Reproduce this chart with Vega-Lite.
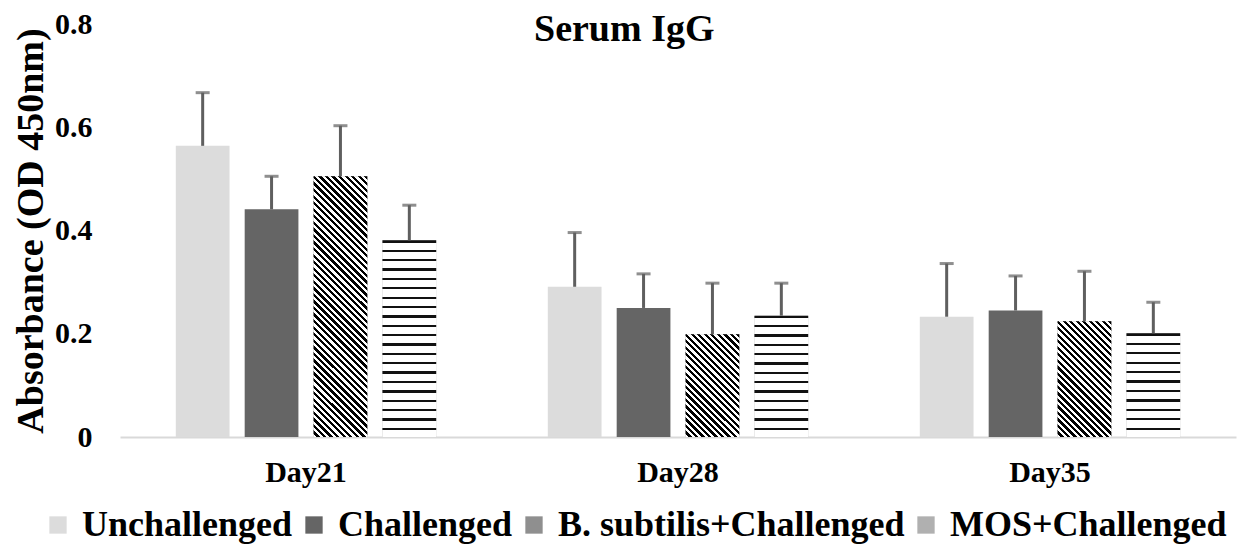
{
  "$schema": "https://vega.github.io/schema/vega-lite/v6.json",
  "width": 1116,
  "height": 413,
  "autosize": {"type": "none"},
  "padding": {"left": 120, "top": 24, "right": 11, "bottom": 113},
  "background": "white",
  "config": {"font": "Liberation Serif", "view": {"stroke": null}},
  "title": {"text": "Serum IgG", "fontSize": 38, "fontWeight": "bold", "font": "Liberation Serif", "anchor": "middle", "frame": "bounds", "baseline": "alphabetic", "offset": -70, "color": "black"},
  "data": {"values": [
    {"day": "Day21", "group": "Unchallenged", "mean": 0.564, "upper": 0.667},
    {"day": "Day21", "group": "Challenged", "mean": 0.441, "upper": 0.505},
    {"day": "Day21", "group": "B. subtilis+Challenged", "mean": 0.505, "upper": 0.603},
    {"day": "Day21", "group": "MOS+Challenged", "mean": 0.381, "upper": 0.449},
    {"day": "Day28", "group": "Unchallenged", "mean": 0.291, "upper": 0.396},
    {"day": "Day28", "group": "Challenged", "mean": 0.250, "upper": 0.316},
    {"day": "Day28", "group": "B. subtilis+Challenged", "mean": 0.199, "upper": 0.298},
    {"day": "Day28", "group": "MOS+Challenged", "mean": 0.235, "upper": 0.298},
    {"day": "Day35", "group": "Unchallenged", "mean": 0.233, "upper": 0.336},
    {"day": "Day35", "group": "Challenged", "mean": 0.245, "upper": 0.312},
    {"day": "Day35", "group": "B. subtilis+Challenged", "mean": 0.224, "upper": 0.321},
    {"day": "Day35", "group": "MOS+Challenged", "mean": 0.201, "upper": 0.261}
  ]},
  "encoding": {
    "x": {"field": "day", "type": "nominal", "sort": ["Day21", "Day28", "Day35"],
      "scale": {"paddingInner": 0.3, "paddingOuter": 0.15},
      "axis": {"title": null, "labelAngle": 0, "labelFontSize": 30, "labelFontWeight": "bold", "labelColor": "black", "labelFont": "Liberation Serif", "ticks": false, "labelPadding": 20, "domainColor": "#d9d9d9", "domainWidth": 2}},
    "xOffset": {"field": "group", "type": "nominal", "sort": ["Unchallenged", "Challenged", "B. subtilis+Challenged", "MOS+Challenged"], "scale": {"paddingInner": 0.22}}
  },
  "layer": [
    {
      "mark": {"type": "bar"},
      "encoding": {
        "y": {"field": "mean", "type": "quantitative",
          "scale": {"domain": [0, 0.8]},
          "axis": {"values": [0, 0.2, 0.4, 0.6, 0.8], "format": "~g", "grid": false, "domain": false, "ticks": false,
            "labelFontSize": 30, "labelFontWeight": "bold", "labelColor": "black", "labelFont": "Liberation Serif", "labelPadding": 28,
            "title": "Absorbance (OD 450nm)", "titleFontSize": 38, "titleFontWeight": "bold", "titleColor": "black", "titleFont": "Liberation Serif", "titlePadding": 4}},
        "color": {"field": "group", "type": "nominal", "sort": ["Unchallenged", "Challenged", "B. subtilis+Challenged", "MOS+Challenged"],
          "scale": {"range": ["#dcdcdc", "#656565", "#8f8f8f", "#b0b0b0"]},
          "legend": {"title": null, "orient": "none", "direction": "horizontal", "legendX": -80, "legendY": 483,
            "symbolType": "square", "symbolSize": 300, "symbolStrokeWidth": 0, "labelFontSize": 36, "labelFontWeight": "bold", "labelColor": "black", "labelFont": "Liberation Serif", "labelLimit": 0, "columnPadding": 3, "labelOffset": 6}}
      }
    },
    {
      "transform": [{"filter": "datum.group == 'B. subtilis+Challenged' && datum.day == 'Day21'"}],
      "mark": {"type": "bar", "color": {"gradient": "linear", "x1": 1, "y1": 0, "x2": 0.7617, "y2": 1.1569, "stops": [
        {"offset": 0, "color": "#000"}, {"offset": 0.0104, "color": "#000"}, {"offset": 0.0104, "color": "#fff"}, {"offset": 0.0208, "color": "#fff"},
        {"offset": 0.0208, "color": "#000"}, {"offset": 0.0313, "color": "#000"}, {"offset": 0.0313, "color": "#fff"}, {"offset": 0.0417, "color": "#fff"},
        {"offset": 0.0417, "color": "#000"}, {"offset": 0.0521, "color": "#000"}, {"offset": 0.0521, "color": "#fff"}, {"offset": 0.0625, "color": "#fff"},
        {"offset": 0.0625, "color": "#000"}, {"offset": 0.0729, "color": "#000"}, {"offset": 0.0729, "color": "#fff"}, {"offset": 0.0833, "color": "#fff"},
        {"offset": 0.0833, "color": "#000"}, {"offset": 0.0938, "color": "#000"}, {"offset": 0.0938, "color": "#fff"}, {"offset": 0.1042, "color": "#fff"},
        {"offset": 0.1042, "color": "#000"}, {"offset": 0.1146, "color": "#000"}, {"offset": 0.1146, "color": "#fff"}, {"offset": 0.125, "color": "#fff"},
        {"offset": 0.125, "color": "#000"}, {"offset": 0.1354, "color": "#000"}, {"offset": 0.1354, "color": "#fff"}, {"offset": 0.1458, "color": "#fff"},
        {"offset": 0.1458, "color": "#000"}, {"offset": 0.1563, "color": "#000"}, {"offset": 0.1563, "color": "#fff"}, {"offset": 0.1667, "color": "#fff"},
        {"offset": 0.1667, "color": "#000"}, {"offset": 0.1771, "color": "#000"}, {"offset": 0.1771, "color": "#fff"}, {"offset": 0.1875, "color": "#fff"},
        {"offset": 0.1875, "color": "#000"}, {"offset": 0.1979, "color": "#000"}, {"offset": 0.1979, "color": "#fff"}, {"offset": 0.2083, "color": "#fff"},
        {"offset": 0.2083, "color": "#000"}, {"offset": 0.2188, "color": "#000"}, {"offset": 0.2188, "color": "#fff"}, {"offset": 0.2292, "color": "#fff"},
        {"offset": 0.2292, "color": "#000"}, {"offset": 0.2396, "color": "#000"}, {"offset": 0.2396, "color": "#fff"}, {"offset": 0.25, "color": "#fff"},
        {"offset": 0.25, "color": "#000"}, {"offset": 0.2604, "color": "#000"}, {"offset": 0.2604, "color": "#fff"}, {"offset": 0.2708, "color": "#fff"},
        {"offset": 0.2708, "color": "#000"}, {"offset": 0.2813, "color": "#000"}, {"offset": 0.2813, "color": "#fff"}, {"offset": 0.2917, "color": "#fff"},
        {"offset": 0.2917, "color": "#000"}, {"offset": 0.3021, "color": "#000"}, {"offset": 0.3021, "color": "#fff"}, {"offset": 0.3125, "color": "#fff"},
        {"offset": 0.3125, "color": "#000"}, {"offset": 0.3229, "color": "#000"}, {"offset": 0.3229, "color": "#fff"}, {"offset": 0.3333, "color": "#fff"},
        {"offset": 0.3333, "color": "#000"}, {"offset": 0.3438, "color": "#000"}, {"offset": 0.3438, "color": "#fff"}, {"offset": 0.3542, "color": "#fff"},
        {"offset": 0.3542, "color": "#000"}, {"offset": 0.3646, "color": "#000"}, {"offset": 0.3646, "color": "#fff"}, {"offset": 0.375, "color": "#fff"},
        {"offset": 0.375, "color": "#000"}, {"offset": 0.3854, "color": "#000"}, {"offset": 0.3854, "color": "#fff"}, {"offset": 0.3958, "color": "#fff"},
        {"offset": 0.3958, "color": "#000"}, {"offset": 0.4063, "color": "#000"}, {"offset": 0.4063, "color": "#fff"}, {"offset": 0.4167, "color": "#fff"},
        {"offset": 0.4167, "color": "#000"}, {"offset": 0.4271, "color": "#000"}, {"offset": 0.4271, "color": "#fff"}, {"offset": 0.4375, "color": "#fff"},
        {"offset": 0.4375, "color": "#000"}, {"offset": 0.4479, "color": "#000"}, {"offset": 0.4479, "color": "#fff"}, {"offset": 0.4583, "color": "#fff"},
        {"offset": 0.4583, "color": "#000"}, {"offset": 0.4688, "color": "#000"}, {"offset": 0.4688, "color": "#fff"}, {"offset": 0.4792, "color": "#fff"},
        {"offset": 0.4792, "color": "#000"}, {"offset": 0.4896, "color": "#000"}, {"offset": 0.4896, "color": "#fff"}, {"offset": 0.5, "color": "#fff"},
        {"offset": 0.5, "color": "#000"}, {"offset": 0.5104, "color": "#000"}, {"offset": 0.5104, "color": "#fff"}, {"offset": 0.5208, "color": "#fff"},
        {"offset": 0.5208, "color": "#000"}, {"offset": 0.5313, "color": "#000"}, {"offset": 0.5313, "color": "#fff"}, {"offset": 0.5417, "color": "#fff"},
        {"offset": 0.5417, "color": "#000"}, {"offset": 0.5521, "color": "#000"}, {"offset": 0.5521, "color": "#fff"}, {"offset": 0.5625, "color": "#fff"},
        {"offset": 0.5625, "color": "#000"}, {"offset": 0.5729, "color": "#000"}, {"offset": 0.5729, "color": "#fff"}, {"offset": 0.5833, "color": "#fff"},
        {"offset": 0.5833, "color": "#000"}, {"offset": 0.5938, "color": "#000"}, {"offset": 0.5938, "color": "#fff"}, {"offset": 0.6042, "color": "#fff"},
        {"offset": 0.6042, "color": "#000"}, {"offset": 0.6146, "color": "#000"}, {"offset": 0.6146, "color": "#fff"}, {"offset": 0.625, "color": "#fff"},
        {"offset": 0.625, "color": "#000"}, {"offset": 0.6354, "color": "#000"}, {"offset": 0.6354, "color": "#fff"}, {"offset": 0.6458, "color": "#fff"},
        {"offset": 0.6458, "color": "#000"}, {"offset": 0.6563, "color": "#000"}, {"offset": 0.6563, "color": "#fff"}, {"offset": 0.6667, "color": "#fff"},
        {"offset": 0.6667, "color": "#000"}, {"offset": 0.6771, "color": "#000"}, {"offset": 0.6771, "color": "#fff"}, {"offset": 0.6875, "color": "#fff"},
        {"offset": 0.6875, "color": "#000"}, {"offset": 0.6979, "color": "#000"}, {"offset": 0.6979, "color": "#fff"}, {"offset": 0.7083, "color": "#fff"},
        {"offset": 0.7083, "color": "#000"}, {"offset": 0.7188, "color": "#000"}, {"offset": 0.7188, "color": "#fff"}, {"offset": 0.7292, "color": "#fff"},
        {"offset": 0.7292, "color": "#000"}, {"offset": 0.7396, "color": "#000"}, {"offset": 0.7396, "color": "#fff"}, {"offset": 0.75, "color": "#fff"},
        {"offset": 0.75, "color": "#000"}, {"offset": 0.7604, "color": "#000"}, {"offset": 0.7604, "color": "#fff"}, {"offset": 0.7708, "color": "#fff"},
        {"offset": 0.7708, "color": "#000"}, {"offset": 0.7813, "color": "#000"}, {"offset": 0.7813, "color": "#fff"}, {"offset": 0.7917, "color": "#fff"},
        {"offset": 0.7917, "color": "#000"}, {"offset": 0.8021, "color": "#000"}, {"offset": 0.8021, "color": "#fff"}, {"offset": 0.8125, "color": "#fff"},
        {"offset": 0.8125, "color": "#000"}, {"offset": 0.8229, "color": "#000"}, {"offset": 0.8229, "color": "#fff"}, {"offset": 0.8333, "color": "#fff"},
        {"offset": 0.8333, "color": "#000"}, {"offset": 0.8438, "color": "#000"}, {"offset": 0.8438, "color": "#fff"}, {"offset": 0.8542, "color": "#fff"},
        {"offset": 0.8542, "color": "#000"}, {"offset": 0.8646, "color": "#000"}, {"offset": 0.8646, "color": "#fff"}, {"offset": 0.875, "color": "#fff"},
        {"offset": 0.875, "color": "#000"}, {"offset": 0.8854, "color": "#000"}, {"offset": 0.8854, "color": "#fff"}, {"offset": 0.8958, "color": "#fff"},
        {"offset": 0.8958, "color": "#000"}, {"offset": 0.9063, "color": "#000"}, {"offset": 0.9063, "color": "#fff"}, {"offset": 0.9167, "color": "#fff"},
        {"offset": 0.9167, "color": "#000"}, {"offset": 0.9271, "color": "#000"}, {"offset": 0.9271, "color": "#fff"}, {"offset": 0.9375, "color": "#fff"},
        {"offset": 0.9375, "color": "#000"}, {"offset": 0.9479, "color": "#000"}, {"offset": 0.9479, "color": "#fff"}, {"offset": 0.9583, "color": "#fff"},
        {"offset": 0.9583, "color": "#000"}, {"offset": 0.9688, "color": "#000"}, {"offset": 0.9688, "color": "#fff"}, {"offset": 0.9792, "color": "#fff"},
        {"offset": 0.9792, "color": "#000"}, {"offset": 0.9896, "color": "#000"}, {"offset": 0.9896, "color": "#fff"}, {"offset": 1, "color": "#fff"}]}},
      "encoding": {"y": {"field": "mean", "type": "quantitative"}}
    },
    {
      "transform": [{"filter": "datum.group == 'B. subtilis+Challenged' && datum.day == 'Day28'"}],
      "mark": {"type": "bar", "color": {"gradient": "linear", "x1": 1, "y1": 0, "x2": 0.3747, "y2": 1.196, "stops": [
        {"offset": 0, "color": "#000"}, {"offset": 0.0208, "color": "#000"}, {"offset": 0.0208, "color": "#fff"}, {"offset": 0.0417, "color": "#fff"},
        {"offset": 0.0417, "color": "#000"}, {"offset": 0.0625, "color": "#000"}, {"offset": 0.0625, "color": "#fff"}, {"offset": 0.0833, "color": "#fff"},
        {"offset": 0.0833, "color": "#000"}, {"offset": 0.1042, "color": "#000"}, {"offset": 0.1042, "color": "#fff"}, {"offset": 0.125, "color": "#fff"},
        {"offset": 0.125, "color": "#000"}, {"offset": 0.1458, "color": "#000"}, {"offset": 0.1458, "color": "#fff"}, {"offset": 0.1667, "color": "#fff"},
        {"offset": 0.1667, "color": "#000"}, {"offset": 0.1875, "color": "#000"}, {"offset": 0.1875, "color": "#fff"}, {"offset": 0.2083, "color": "#fff"},
        {"offset": 0.2083, "color": "#000"}, {"offset": 0.2292, "color": "#000"}, {"offset": 0.2292, "color": "#fff"}, {"offset": 0.25, "color": "#fff"},
        {"offset": 0.25, "color": "#000"}, {"offset": 0.2708, "color": "#000"}, {"offset": 0.2708, "color": "#fff"}, {"offset": 0.2917, "color": "#fff"},
        {"offset": 0.2917, "color": "#000"}, {"offset": 0.3125, "color": "#000"}, {"offset": 0.3125, "color": "#fff"}, {"offset": 0.3333, "color": "#fff"},
        {"offset": 0.3333, "color": "#000"}, {"offset": 0.3542, "color": "#000"}, {"offset": 0.3542, "color": "#fff"}, {"offset": 0.375, "color": "#fff"},
        {"offset": 0.375, "color": "#000"}, {"offset": 0.3958, "color": "#000"}, {"offset": 0.3958, "color": "#fff"}, {"offset": 0.4167, "color": "#fff"},
        {"offset": 0.4167, "color": "#000"}, {"offset": 0.4375, "color": "#000"}, {"offset": 0.4375, "color": "#fff"}, {"offset": 0.4583, "color": "#fff"},
        {"offset": 0.4583, "color": "#000"}, {"offset": 0.4792, "color": "#000"}, {"offset": 0.4792, "color": "#fff"}, {"offset": 0.5, "color": "#fff"},
        {"offset": 0.5, "color": "#000"}, {"offset": 0.5208, "color": "#000"}, {"offset": 0.5208, "color": "#fff"}, {"offset": 0.5417, "color": "#fff"},
        {"offset": 0.5417, "color": "#000"}, {"offset": 0.5625, "color": "#000"}, {"offset": 0.5625, "color": "#fff"}, {"offset": 0.5833, "color": "#fff"},
        {"offset": 0.5833, "color": "#000"}, {"offset": 0.6042, "color": "#000"}, {"offset": 0.6042, "color": "#fff"}, {"offset": 0.625, "color": "#fff"},
        {"offset": 0.625, "color": "#000"}, {"offset": 0.6458, "color": "#000"}, {"offset": 0.6458, "color": "#fff"}, {"offset": 0.6667, "color": "#fff"},
        {"offset": 0.6667, "color": "#000"}, {"offset": 0.6875, "color": "#000"}, {"offset": 0.6875, "color": "#fff"}, {"offset": 0.7083, "color": "#fff"},
        {"offset": 0.7083, "color": "#000"}, {"offset": 0.7292, "color": "#000"}, {"offset": 0.7292, "color": "#fff"}, {"offset": 0.75, "color": "#fff"},
        {"offset": 0.75, "color": "#000"}, {"offset": 0.7708, "color": "#000"}, {"offset": 0.7708, "color": "#fff"}, {"offset": 0.7917, "color": "#fff"},
        {"offset": 0.7917, "color": "#000"}, {"offset": 0.8125, "color": "#000"}, {"offset": 0.8125, "color": "#fff"}, {"offset": 0.8333, "color": "#fff"},
        {"offset": 0.8333, "color": "#000"}, {"offset": 0.8542, "color": "#000"}, {"offset": 0.8542, "color": "#fff"}, {"offset": 0.875, "color": "#fff"},
        {"offset": 0.875, "color": "#000"}, {"offset": 0.8958, "color": "#000"}, {"offset": 0.8958, "color": "#fff"}, {"offset": 0.9167, "color": "#fff"},
        {"offset": 0.9167, "color": "#000"}, {"offset": 0.9375, "color": "#000"}, {"offset": 0.9375, "color": "#fff"}, {"offset": 0.9583, "color": "#fff"},
        {"offset": 0.9583, "color": "#000"}, {"offset": 0.9792, "color": "#000"}, {"offset": 0.9792, "color": "#fff"}, {"offset": 1, "color": "#fff"}]}},
      "encoding": {"y": {"field": "mean", "type": "quantitative"}}
    },
    {
      "transform": [{"filter": "datum.group == 'B. subtilis+Challenged' && datum.day == 'Day35'"}],
      "mark": {"type": "bar", "color": {"gradient": "linear", "x1": 1, "y1": 0, "x2": 0.4404, "y2": 1.2046, "stops": [
        {"offset": 0, "color": "#000"}, {"offset": 0.0192, "color": "#000"}, {"offset": 0.0192, "color": "#fff"}, {"offset": 0.0385, "color": "#fff"},
        {"offset": 0.0385, "color": "#000"}, {"offset": 0.0577, "color": "#000"}, {"offset": 0.0577, "color": "#fff"}, {"offset": 0.0769, "color": "#fff"},
        {"offset": 0.0769, "color": "#000"}, {"offset": 0.0962, "color": "#000"}, {"offset": 0.0962, "color": "#fff"}, {"offset": 0.1154, "color": "#fff"},
        {"offset": 0.1154, "color": "#000"}, {"offset": 0.1346, "color": "#000"}, {"offset": 0.1346, "color": "#fff"}, {"offset": 0.1538, "color": "#fff"},
        {"offset": 0.1538, "color": "#000"}, {"offset": 0.1731, "color": "#000"}, {"offset": 0.1731, "color": "#fff"}, {"offset": 0.1923, "color": "#fff"},
        {"offset": 0.1923, "color": "#000"}, {"offset": 0.2115, "color": "#000"}, {"offset": 0.2115, "color": "#fff"}, {"offset": 0.2308, "color": "#fff"},
        {"offset": 0.2308, "color": "#000"}, {"offset": 0.25, "color": "#000"}, {"offset": 0.25, "color": "#fff"}, {"offset": 0.2692, "color": "#fff"},
        {"offset": 0.2692, "color": "#000"}, {"offset": 0.2885, "color": "#000"}, {"offset": 0.2885, "color": "#fff"}, {"offset": 0.3077, "color": "#fff"},
        {"offset": 0.3077, "color": "#000"}, {"offset": 0.3269, "color": "#000"}, {"offset": 0.3269, "color": "#fff"}, {"offset": 0.3462, "color": "#fff"},
        {"offset": 0.3462, "color": "#000"}, {"offset": 0.3654, "color": "#000"}, {"offset": 0.3654, "color": "#fff"}, {"offset": 0.3846, "color": "#fff"},
        {"offset": 0.3846, "color": "#000"}, {"offset": 0.4038, "color": "#000"}, {"offset": 0.4038, "color": "#fff"}, {"offset": 0.4231, "color": "#fff"},
        {"offset": 0.4231, "color": "#000"}, {"offset": 0.4423, "color": "#000"}, {"offset": 0.4423, "color": "#fff"}, {"offset": 0.4615, "color": "#fff"},
        {"offset": 0.4615, "color": "#000"}, {"offset": 0.4808, "color": "#000"}, {"offset": 0.4808, "color": "#fff"}, {"offset": 0.5, "color": "#fff"},
        {"offset": 0.5, "color": "#000"}, {"offset": 0.5192, "color": "#000"}, {"offset": 0.5192, "color": "#fff"}, {"offset": 0.5385, "color": "#fff"},
        {"offset": 0.5385, "color": "#000"}, {"offset": 0.5577, "color": "#000"}, {"offset": 0.5577, "color": "#fff"}, {"offset": 0.5769, "color": "#fff"},
        {"offset": 0.5769, "color": "#000"}, {"offset": 0.5962, "color": "#000"}, {"offset": 0.5962, "color": "#fff"}, {"offset": 0.6154, "color": "#fff"},
        {"offset": 0.6154, "color": "#000"}, {"offset": 0.6346, "color": "#000"}, {"offset": 0.6346, "color": "#fff"}, {"offset": 0.6538, "color": "#fff"},
        {"offset": 0.6538, "color": "#000"}, {"offset": 0.6731, "color": "#000"}, {"offset": 0.6731, "color": "#fff"}, {"offset": 0.6923, "color": "#fff"},
        {"offset": 0.6923, "color": "#000"}, {"offset": 0.7115, "color": "#000"}, {"offset": 0.7115, "color": "#fff"}, {"offset": 0.7308, "color": "#fff"},
        {"offset": 0.7308, "color": "#000"}, {"offset": 0.75, "color": "#000"}, {"offset": 0.75, "color": "#fff"}, {"offset": 0.7692, "color": "#fff"},
        {"offset": 0.7692, "color": "#000"}, {"offset": 0.7885, "color": "#000"}, {"offset": 0.7885, "color": "#fff"}, {"offset": 0.8077, "color": "#fff"},
        {"offset": 0.8077, "color": "#000"}, {"offset": 0.8269, "color": "#000"}, {"offset": 0.8269, "color": "#fff"}, {"offset": 0.8462, "color": "#fff"},
        {"offset": 0.8462, "color": "#000"}, {"offset": 0.8654, "color": "#000"}, {"offset": 0.8654, "color": "#fff"}, {"offset": 0.8846, "color": "#fff"},
        {"offset": 0.8846, "color": "#000"}, {"offset": 0.9038, "color": "#000"}, {"offset": 0.9038, "color": "#fff"}, {"offset": 0.9231, "color": "#fff"},
        {"offset": 0.9231, "color": "#000"}, {"offset": 0.9423, "color": "#000"}, {"offset": 0.9423, "color": "#fff"}, {"offset": 0.9615, "color": "#fff"},
        {"offset": 0.9615, "color": "#000"}, {"offset": 0.9808, "color": "#000"}, {"offset": 0.9808, "color": "#fff"}, {"offset": 1, "color": "#fff"}]}},
      "encoding": {"y": {"field": "mean", "type": "quantitative"}}
    },
    {
      "transform": [{"filter": "datum.group == 'MOS+Challenged' && datum.day == 'Day21'"}],
      "mark": {"type": "bar", "color": {"gradient": "linear", "x1": 0, "y1": 0, "x2": 0, "y2": 1, "stops": [
        {"offset": 0, "color": "#111"}, {"offset": 0.0119, "color": "#111"}, {"offset": 0.0119, "color": "#fff"},
        {"offset": 0.0476, "color": "#fff"}, {"offset": 0.0476, "color": "#111"}, {"offset": 0.0595, "color": "#111"}, {"offset": 0.0595, "color": "#fff"},
        {"offset": 0.0952, "color": "#fff"}, {"offset": 0.0952, "color": "#111"}, {"offset": 0.1071, "color": "#111"}, {"offset": 0.1071, "color": "#fff"},
        {"offset": 0.1429, "color": "#fff"}, {"offset": 0.1429, "color": "#111"}, {"offset": 0.1548, "color": "#111"}, {"offset": 0.1548, "color": "#fff"},
        {"offset": 0.1905, "color": "#fff"}, {"offset": 0.1905, "color": "#111"}, {"offset": 0.2024, "color": "#111"}, {"offset": 0.2024, "color": "#fff"},
        {"offset": 0.2381, "color": "#fff"}, {"offset": 0.2381, "color": "#111"}, {"offset": 0.2500, "color": "#111"}, {"offset": 0.2500, "color": "#fff"},
        {"offset": 0.2857, "color": "#fff"}, {"offset": 0.2857, "color": "#111"}, {"offset": 0.2976, "color": "#111"}, {"offset": 0.2976, "color": "#fff"},
        {"offset": 0.3333, "color": "#fff"}, {"offset": 0.3333, "color": "#111"}, {"offset": 0.3452, "color": "#111"}, {"offset": 0.3452, "color": "#fff"},
        {"offset": 0.3810, "color": "#fff"}, {"offset": 0.3810, "color": "#111"}, {"offset": 0.3929, "color": "#111"}, {"offset": 0.3929, "color": "#fff"},
        {"offset": 0.4286, "color": "#fff"}, {"offset": 0.4286, "color": "#111"}, {"offset": 0.4405, "color": "#111"}, {"offset": 0.4405, "color": "#fff"},
        {"offset": 0.4762, "color": "#fff"}, {"offset": 0.4762, "color": "#111"}, {"offset": 0.4881, "color": "#111"}, {"offset": 0.4881, "color": "#fff"},
        {"offset": 0.5238, "color": "#fff"}, {"offset": 0.5238, "color": "#111"}, {"offset": 0.5357, "color": "#111"}, {"offset": 0.5357, "color": "#fff"},
        {"offset": 0.5714, "color": "#fff"}, {"offset": 0.5714, "color": "#111"}, {"offset": 0.5833, "color": "#111"}, {"offset": 0.5833, "color": "#fff"},
        {"offset": 0.6190, "color": "#fff"}, {"offset": 0.6190, "color": "#111"}, {"offset": 0.6310, "color": "#111"}, {"offset": 0.6310, "color": "#fff"},
        {"offset": 0.6667, "color": "#fff"}, {"offset": 0.6667, "color": "#111"}, {"offset": 0.6786, "color": "#111"}, {"offset": 0.6786, "color": "#fff"},
        {"offset": 0.7143, "color": "#fff"}, {"offset": 0.7143, "color": "#111"}, {"offset": 0.7262, "color": "#111"}, {"offset": 0.7262, "color": "#fff"},
        {"offset": 0.7619, "color": "#fff"}, {"offset": 0.7619, "color": "#111"}, {"offset": 0.7738, "color": "#111"}, {"offset": 0.7738, "color": "#fff"},
        {"offset": 0.8095, "color": "#fff"}, {"offset": 0.8095, "color": "#111"}, {"offset": 0.8214, "color": "#111"}, {"offset": 0.8214, "color": "#fff"},
        {"offset": 0.8571, "color": "#fff"}, {"offset": 0.8571, "color": "#111"}, {"offset": 0.8690, "color": "#111"}, {"offset": 0.8690, "color": "#fff"},
        {"offset": 0.9048, "color": "#fff"}, {"offset": 0.9048, "color": "#111"}, {"offset": 0.9167, "color": "#111"}, {"offset": 0.9167, "color": "#fff"},
        {"offset": 0.9524, "color": "#fff"}, {"offset": 0.9524, "color": "#111"}, {"offset": 0.9643, "color": "#111"}, {"offset": 0.9643, "color": "#fff"},
        {"offset": 1, "color": "#fff"}]}},
      "encoding": {"y": {"field": "mean", "type": "quantitative"}}
    },
    {
      "transform": [{"filter": "datum.group == 'MOS+Challenged' && datum.day == 'Day28'"}],
      "mark": {"type": "bar", "color": {"gradient": "linear", "x1": 0, "y1": 0, "x2": 0, "y2": 1, "stops": [
        {"offset": 0, "color": "#111"}, {"offset": 0.0192, "color": "#111"}, {"offset": 0.0192, "color": "#fff"},
        {"offset": 0.0769, "color": "#fff"}, {"offset": 0.0769, "color": "#111"}, {"offset": 0.0962, "color": "#111"}, {"offset": 0.0962, "color": "#fff"},
        {"offset": 0.1538, "color": "#fff"}, {"offset": 0.1538, "color": "#111"}, {"offset": 0.1731, "color": "#111"}, {"offset": 0.1731, "color": "#fff"},
        {"offset": 0.2308, "color": "#fff"}, {"offset": 0.2308, "color": "#111"}, {"offset": 0.2500, "color": "#111"}, {"offset": 0.2500, "color": "#fff"},
        {"offset": 0.3077, "color": "#fff"}, {"offset": 0.3077, "color": "#111"}, {"offset": 0.3269, "color": "#111"}, {"offset": 0.3269, "color": "#fff"},
        {"offset": 0.3846, "color": "#fff"}, {"offset": 0.3846, "color": "#111"}, {"offset": 0.4038, "color": "#111"}, {"offset": 0.4038, "color": "#fff"},
        {"offset": 0.4615, "color": "#fff"}, {"offset": 0.4615, "color": "#111"}, {"offset": 0.4808, "color": "#111"}, {"offset": 0.4808, "color": "#fff"},
        {"offset": 0.5385, "color": "#fff"}, {"offset": 0.5385, "color": "#111"}, {"offset": 0.5577, "color": "#111"}, {"offset": 0.5577, "color": "#fff"},
        {"offset": 0.6154, "color": "#fff"}, {"offset": 0.6154, "color": "#111"}, {"offset": 0.6346, "color": "#111"}, {"offset": 0.6346, "color": "#fff"},
        {"offset": 0.6923, "color": "#fff"}, {"offset": 0.6923, "color": "#111"}, {"offset": 0.7115, "color": "#111"}, {"offset": 0.7115, "color": "#fff"},
        {"offset": 0.7692, "color": "#fff"}, {"offset": 0.7692, "color": "#111"}, {"offset": 0.7885, "color": "#111"}, {"offset": 0.7885, "color": "#fff"},
        {"offset": 0.8462, "color": "#fff"}, {"offset": 0.8462, "color": "#111"}, {"offset": 0.8654, "color": "#111"}, {"offset": 0.8654, "color": "#fff"},
        {"offset": 0.9231, "color": "#fff"}, {"offset": 0.9231, "color": "#111"}, {"offset": 0.9423, "color": "#111"}, {"offset": 0.9423, "color": "#fff"},
        {"offset": 1, "color": "#fff"}]}},
      "encoding": {"y": {"field": "mean", "type": "quantitative"}}
    },
    {
      "transform": [{"filter": "datum.group == 'MOS+Challenged' && datum.day == 'Day35'"}],
      "mark": {"type": "bar", "color": {"gradient": "linear", "x1": 0, "y1": 0, "x2": 0, "y2": 1, "stops": [
        {"offset": 0, "color": "#111"}, {"offset": 0.0227, "color": "#111"}, {"offset": 0.0227, "color": "#fff"},
        {"offset": 0.0909, "color": "#fff"}, {"offset": 0.0909, "color": "#111"}, {"offset": 0.1136, "color": "#111"}, {"offset": 0.1136, "color": "#fff"},
        {"offset": 0.1818, "color": "#fff"}, {"offset": 0.1818, "color": "#111"}, {"offset": 0.2045, "color": "#111"}, {"offset": 0.2045, "color": "#fff"},
        {"offset": 0.2727, "color": "#fff"}, {"offset": 0.2727, "color": "#111"}, {"offset": 0.2955, "color": "#111"}, {"offset": 0.2955, "color": "#fff"},
        {"offset": 0.3636, "color": "#fff"}, {"offset": 0.3636, "color": "#111"}, {"offset": 0.3864, "color": "#111"}, {"offset": 0.3864, "color": "#fff"},
        {"offset": 0.4545, "color": "#fff"}, {"offset": 0.4545, "color": "#111"}, {"offset": 0.4773, "color": "#111"}, {"offset": 0.4773, "color": "#fff"},
        {"offset": 0.5455, "color": "#fff"}, {"offset": 0.5455, "color": "#111"}, {"offset": 0.5682, "color": "#111"}, {"offset": 0.5682, "color": "#fff"},
        {"offset": 0.6364, "color": "#fff"}, {"offset": 0.6364, "color": "#111"}, {"offset": 0.6591, "color": "#111"}, {"offset": 0.6591, "color": "#fff"},
        {"offset": 0.7273, "color": "#fff"}, {"offset": 0.7273, "color": "#111"}, {"offset": 0.7500, "color": "#111"}, {"offset": 0.7500, "color": "#fff"},
        {"offset": 0.8182, "color": "#fff"}, {"offset": 0.8182, "color": "#111"}, {"offset": 0.8409, "color": "#111"}, {"offset": 0.8409, "color": "#fff"},
        {"offset": 0.9091, "color": "#fff"}, {"offset": 0.9091, "color": "#111"}, {"offset": 0.9318, "color": "#111"}, {"offset": 0.9318, "color": "#fff"},
        {"offset": 1, "color": "#fff"}]}},
      "encoding": {"y": {"field": "mean", "type": "quantitative"}}
    },
    {
      "mark": {"type": "rule", "color": "#5f5f5f", "strokeWidth": 3},
      "encoding": {"y": {"field": "mean", "type": "quantitative"}, "y2": {"field": "upper"}}
    },
    {
      "mark": {"type": "tick", "color": "#5f5f5f", "thickness": 3, "size": 14, "orient": "horizontal"},
      "encoding": {"y": {"field": "upper", "type": "quantitative"}}
    }
  ]
}
